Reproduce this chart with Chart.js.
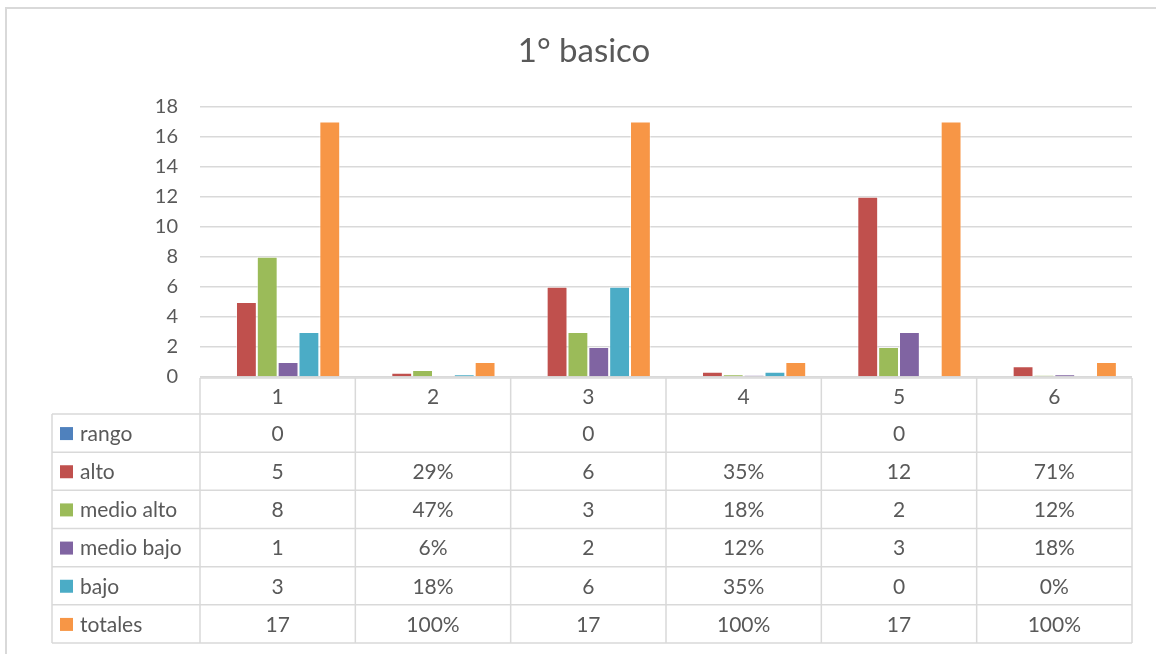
<!DOCTYPE html>
<html>
<head>
<meta charset="utf-8">
<script src="https://cdn.jsdelivr.net/npm/chart.js@4"></script>
<style>
  html, body { margin: 0; padding: 0; background: #fff; }
  canvas { display: block; }
</style>
</head>
<body>
<canvas id="chart" width="1156" height="654"></canvas>
<script>
const categories = ['1', '2', '3', '4', '5', '6'];
// columns 2, 4 and 6 hold shares of the total, shown as percentages
const percentCols = [false, true, false, true, false, true];

const rango = [0, null, 0, null, 0, null];
const alto = [5, 0.29, 6, 0.35, 12, 0.71];
const medioAlto = [8, 0.47, 3, 0.18, 2, 0.12];
const medioBajo = [1, 0.06, 2, 0.12, 3, 0.18];
const bajo = [3, 0.18, 6, 0.35, 0, 0];
const totales = [17, 1, 17, 1, 17, 1];

const seriesNames = ['rango', 'alto', 'medio alto', 'medio bajo', 'bajo', 'totales'];
const seriesColors = ['#4f81bd', '#c0504d', '#9bbb59', '#8064a2', '#4bacc6', '#f79646'];
const seriesData = [rango, alto, medioAlto, medioBajo, bajo, totales];

const FONT = 'Lato, "Open Sans", sans-serif';
const TEXT = '#595959';
const LINE = '#d9d9d9';

function formatCell(value, col) {
    if (value === null || value === undefined) {
        return '';
    }
    if (percentCols[col]) {
        return Math.round(value * 100) + '%';
    }
    return String(value);
}

// draws the frame and the data table under the plot
const dataTable = {
    id: 'dataTable',
    beforeDraw: function (chart) {
        const ctx = chart.ctx;
        ctx.save();
        ctx.strokeStyle = LINE;
        ctx.lineWidth = 2;
        ctx.beginPath();
        ctx.moveTo(6, chart.height);
        ctx.lineTo(6, 8);
        ctx.lineTo(chart.width, 8);
        ctx.stroke();
        ctx.restore();
    },
    afterDraw: function (chart) {
        const ctx = chart.ctx;
        const area = chart.chartArea;
        const x = chart.scales.x;
        const top = area.bottom + 1;
        const headerBottom = 414;
        const bottom = 643;
        const rowH = (bottom - headerBottom) / seriesNames.length;
        const labelLeft = 52;
        const colW = (area.right - area.left) / categories.length;

        ctx.save();
        ctx.strokeStyle = LINE;
        ctx.lineWidth = 1.5;
        ctx.beginPath();
        // axis line
        ctx.moveTo(area.left, top);
        ctx.lineTo(area.right, top);
        // row lines
        for (let r = 0; r <= seriesNames.length; r++) {
            const y = headerBottom + r * rowH;
            ctx.moveTo(labelLeft, y);
            ctx.lineTo(area.right, y);
        }
        // column lines
        for (let c = 0; c <= categories.length; c++) {
            const xx = area.left + c * colW;
            ctx.moveTo(xx, top);
            ctx.lineTo(xx, bottom);
        }
        ctx.moveTo(labelLeft, headerBottom);
        ctx.lineTo(labelLeft, bottom);
        ctx.stroke();

        ctx.fillStyle = TEXT;
        ctx.font = '21px ' + FONT;
        ctx.textBaseline = 'middle';
        ctx.textAlign = 'center';
        categories.forEach(function (cat, c) {
            ctx.fillText(cat, x.getPixelForValue(c), (top + headerBottom) / 2 + 1);
        });

        seriesNames.forEach(function (name, r) {
            const yMid = headerBottom + r * rowH + rowH / 2 + 1;
            ctx.fillStyle = seriesColors[r];
            ctx.fillRect(60, yMid - 7, 13, 13);
            ctx.fillStyle = TEXT;
            ctx.textAlign = 'left';
            ctx.fillText(name, 80, yMid);
            ctx.textAlign = 'center';
            seriesData[r].forEach(function (v, c) {
                ctx.fillText(formatCell(v, c), x.getPixelForValue(c), yMid);
            });
        });
        ctx.restore();
    }
};

new Chart(document.getElementById('chart'), {
    type: 'bar',
    data: {
        labels: categories,
        datasets: seriesNames.map(function (name, i) {
            return {
                label: name,
                data: seriesData[i],
                backgroundColor: seriesColors[i],
                borderColor: 'rgba(255,255,255,0.5)',
                borderWidth: 1,
                categoryPercentage: 0.805,
                barPercentage: 1.0
            };
        })
    },
    options: {
        responsive: false,
        animation: false,
        layout: {
            padding: { left: 18, right: 6, top: 0, bottom: 277 }
        },
        plugins: {
            legend: { display: false },
            tooltip: { enabled: false },
            title: {
                display: true,
                text: '1° basico',
                color: TEXT,
                font: { family: FONT, size: 33, weight: 'normal' },
                padding: { top: 32, bottom: 35 }
            }
        },
        scales: {
            x: {
                display: false
            },
            y: {
                min: 0,
                max: 18,
                ticks: {
                    stepSize: 2,
                    color: TEXT,
                    padding: 22,
                    font: { family: FONT, size: 20 }
                },
                grid: {
                    color: LINE,
                    lineWidth: 1.5,
                    drawTicks: false
                },
                border: { display: false },
                afterFit: function (scale) {
                    scale.width = 182;
                }
            },
            // empty right-hand spacer so the plot ends where the reference does
            spacer: {
                position: 'right',
                grid: { display: false },
                ticks: { display: false },
                border: { display: false },
                afterFit: function (scale) {
                    scale.width = 18;
                }
            }
        }
    },
    plugins: [dataTable]
});
</script>
</body>
</html>
